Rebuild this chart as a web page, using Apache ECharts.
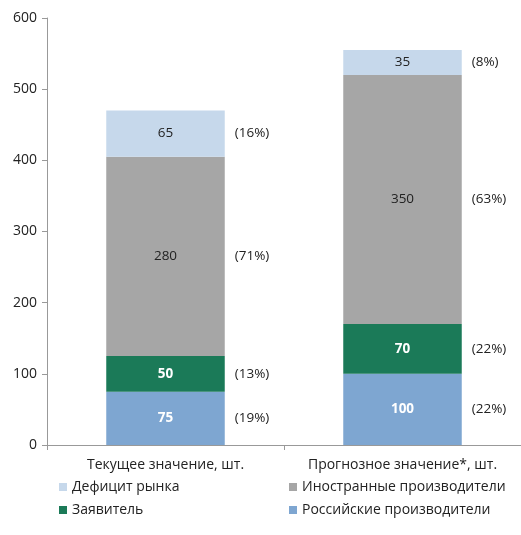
<!DOCTYPE html>
<html>
<head>
<meta charset="utf-8">
<script src="https://cdn.jsdelivr.net/npm/echarts@6/dist/echarts.min.js"></script>
<style>
html, body { margin: 0; padding: 0; background: #fff; }
#chart { width: 521px; height: 535px; }
</style>
</head>
<body>
<div id="chart"></div>
<script>
var categories = ['Текущее значение, шт.', 'Прогнозное значение*, шт.'];
var russian = [75, 100];
var applicant = [50, 70];
var foreign = [280, 350];
var deficit = [65, 35];
var pctRussian = ['(19%)', '(22%)'];
var pctApplicant = ['(13%)', '(22%)'];
var pctForeign = ['(71%)', '(63%)'];
var pctDeficit = ['(16%)', '(8%)'];
var yTicks = [0, 100, 200, 300, 400, 500, 600];

var font = 'Open Sans';
var chart = echarts.init(document.getElementById('chart'));

function valueSeries(name, data, color, bold) {
  return {
    name: name, type: 'bar', stack: 'v', data: data, barWidth: '50%', barGap: '-100%',
    itemStyle: { color: color },
    label: {
      show: true, position: 'inside', fontFamily: font, fontSize: 13.5,
      color: bold ? '#fff' : '#222', fontWeight: bold ? 'bold' : 'normal'
    },
    emphasis: { disabled: true }
  };
}
function pctSeries(values, pcts) {
  return {
    type: 'bar', stack: 'p', data: values, barWidth: '50%', barGap: '-100%',
    itemStyle: { color: 'rgba(0,0,0,0)' },
    label: {
      show: true, position: 'right', distance: 10, fontFamily: font, fontSize: 13.5, color: '#222',
      formatter: function (p) { return pcts[p.dataIndex]; }
    },
    emphasis: { disabled: true }, silent: true
  };
}

var option = {
  animation: false,
  grid: { left: 47, right: 0, top: 18, bottom: 90 },
  legend: [{
    left: 54, top: 475, orient: 'vertical', itemWidth: 8, itemHeight: 8, itemGap: 9,
    icon: 'rect', textStyle: { fontFamily: font, fontSize: 14, color: '#222' },
    data: ['Дефицит рынка', 'Заявитель']
  }, {
    left: 284, top: 475, orient: 'vertical', itemWidth: 8, itemHeight: 8, itemGap: 9,
    icon: 'rect', textStyle: { fontFamily: font, fontSize: 14, color: '#222' },
    data: ['Иностранные производители', 'Российские производители']
  }],
  xAxis: {
    type: 'category', data: categories,
    axisLine: { lineStyle: { color: '#999' } },
    axisTick: { show: true, length: 5, lineStyle: { color: '#999' } },
    axisLabel: { fontFamily: font, fontSize: 14, color: '#222', margin: 13, interval: 0, hideOverlap: false }
  },
  yAxis: {
    type: 'value', min: 0, max: 600, interval: 100,
    axisLine: { show: true, lineStyle: { color: '#999' } },
    axisTick: { show: true, length: 5, lineStyle: { color: '#999' } },
    splitLine: { show: false },
    axisLabel: {
      fontFamily: font, fontSize: 14, color: '#222', margin: 10,
      formatter: function (v) { return yTicks.indexOf(v) >= 0 ? String(v) : ''; }
    }
  },
  series: [
    valueSeries('Российские производители', russian, '#7ea6d1', true),
    valueSeries('Заявитель', applicant, '#1b7a58', true),
    valueSeries('Иностранные производители', foreign, '#a6a6a6', false),
    valueSeries('Дефицит рынка', deficit, '#c6d8eb', false),
    pctSeries(russian, pctRussian),
    pctSeries(applicant, pctApplicant),
    pctSeries(foreign, pctForeign),
    pctSeries(deficit, pctDeficit)
  ]
};
chart.setOption(option);
</script>
</body>
</html>
